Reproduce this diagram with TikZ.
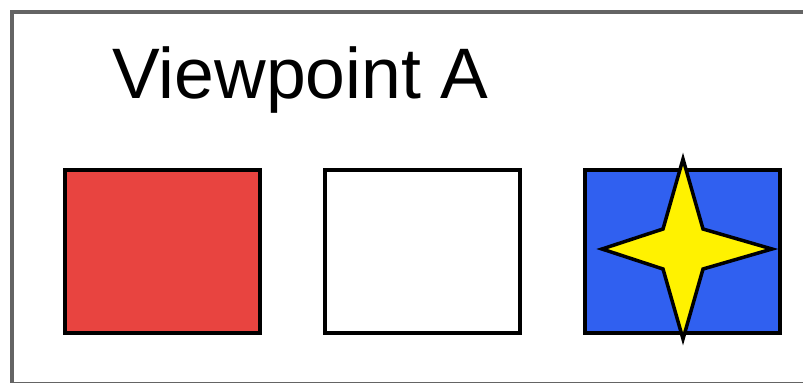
\documentclass[tikz,border=0pt]{standalone}
\usepackage{fontspec}
\setmainfont{Liberation Sans}
\usetikzlibrary{positioning}
\definecolor{boxred}{RGB}{232,68,64}
\definecolor{boxblue}{RGB}{48,96,240}
\definecolor{framegray}{RGB}{100,100,100}
\tikzset{
  view box/.style={draw=black, line width=2pt, minimum width=3.9cm, minimum height=3.26cm, inner sep=0pt, outer sep=0pt},
}
\begin{document}
\begin{tikzpicture}[x=0.02cm, y=-0.02cm]
\useasboundingbox (0,0) rectangle (803,382);
\clip (0,0) rectangle (803,382);
\draw[framegray, line width=2.8pt] (12,12) rectangle (830,384.5);

\node[anchor=base west, inner sep=0pt, font=\fontsize{40.7}{44}\selectfont] (title) at (112,98) {Viewpoint A};

\node[view box, fill=boxred] (red) at (162.5,251.5) {};
\node[view box, fill=white, right=1.3cm of red] (white) {};
\node[view box, fill=boxblue, right=1.3cm of white] (blue) {};

% star on the blue box
\draw[fill=yellow, line width=2pt, line join=miter, miter limit=20]
  (683,159) -- (703,229) -- (772,249) -- (703,269) -- (683,339)
  -- (663,269) -- (602,249) -- (663,229) -- cycle;
\end{tikzpicture}
\end{document}
